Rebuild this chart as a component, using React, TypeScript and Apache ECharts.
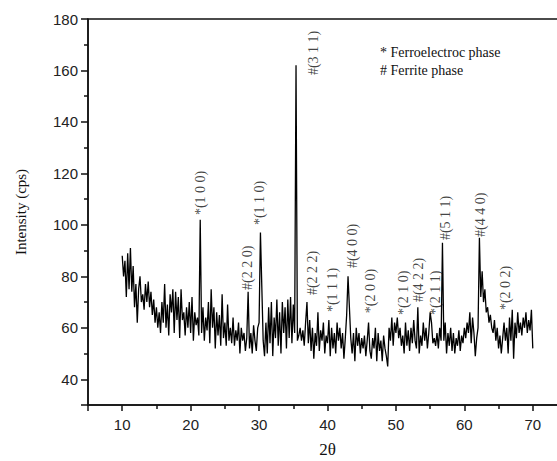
import React, { useEffect, useRef } from "react";
import * as echarts from "echarts";

// Sampling grid of the scan (2θ, degrees)
const START_2THETA = 10;
const STEP_2THETA = 0.2;

// Intensity (cps), one value per 0.2° from 10.0° to 70.0°
const intensity: number[] = [
  88, 80, 86, 72, 89, 75, 91, 74, 84, 68, 77,
  62, 75, 80, 70, 73, 67, 77, 70, 78, 68,
  74, 65, 71, 62, 68, 60, 66, 58, 70, 62,
  77, 60, 69, 57, 73, 66, 75, 58, 74, 63,
  72, 56, 75, 63, 66, 57, 68, 60, 70, 58,
  72, 55, 66, 61, 64, 57, 102, 58, 68, 55,
  64, 59, 70, 54, 75, 60, 68, 52, 66, 57,
  65, 53, 73, 56, 62, 53, 69, 55, 60, 54,
  64, 53, 59, 55, 62, 50, 60, 55, 58, 51,
  56, 74, 52, 58, 50, 61, 55, 51, 60, 62,
  97, 76, 55, 49, 62, 50, 68, 54, 70, 49,
  64, 56, 71, 53, 66, 50, 70, 58, 68, 52,
  71, 56, 72, 54, 69, 58, 162, 55, 57, 60,
  55, 59, 53, 62, 70, 54, 63, 51, 60, 48,
  58, 53, 66, 51, 59, 55, 62, 50, 57, 54,
  63, 49, 60, 52, 58, 50, 62, 55, 60, 52,
  58, 48, 56, 65, 80, 68, 56, 50, 58, 47,
  60, 53, 58, 50, 56, 52, 57, 49, 55, 62,
  51, 48, 56, 52, 60, 47, 58, 51, 55, 47,
  57, 52, 49, 45, 60, 55, 64, 53, 62, 58,
  64, 56, 60, 53, 57, 50, 62, 53, 59, 51,
  60, 54, 63, 55, 52, 68, 50, 57, 53, 62,
  55, 60, 52, 58, 66, 62, 54, 56, 53, 58,
  52, 60, 55, 93, 55, 62, 50, 58, 53, 60,
  51, 58, 50, 56, 53, 59, 51, 57, 54, 60,
  56, 62, 58, 66, 54, 64, 58, 49, 56, 60,
  95, 72, 82, 70, 75, 66, 68, 62, 65, 60,
  58, 63, 55, 60, 52, 57, 50, 56, 62, 55,
  60, 50, 64, 55, 67, 48, 62, 56, 66, 58,
  62, 57, 64, 60, 66, 58, 63, 59, 67, 52,
];

// Peak annotations: text, and where each label starts (2θ, intensity)
const peakLabels: string[] = [
  "*(1 0 0)", "*(1 1 0)", "#(3 1 1)", "#(2 2 0)", "#(2 2 2)", "*(1 1 1)", "#(4 0 0)",
  "*(2 0 0)", "*(2 1 0)", "#(4 2 2)", "*(2 1 1)", "#(5 1 1)", "#(4 4 0)", "*(2 0 2)",
];
const peakLabel2Theta: number[] = [
  21.4, 30.05, 37.95, 28.3, 37.8, 40.7, 43.65, 46.3, 51.1, 53.3, 55.8, 57.25, 62.35, 66.0,
];
const peakLabelIntensity: number[] = [
  103.8, 99.9, 158.2, 74.7, 72.7, 66.1, 83.2, 65.7, 65.0, 70.0, 65.0, 94.1, 95.3, 66.9,
];

const legendLines: string[] = ["* Ferroelectroc phase", "# Ferrite phase"];

const X_MIN = 5;
const X_MAX = 75;
const Y_MIN = 30;
const Y_MAX = 180;

const SERIF = "'Liberation Serif', 'Times New Roman', serif";
const SANS = "'Liberation Sans', Arial, sans-serif";

export default function App() {
  const ref = useRef<HTMLDivElement>(null);

  useEffect(() => {
    if (!ref.current) return;
    const chart = echarts.init(ref.current, undefined, { renderer: "svg" });

    const lineData = intensity.map((v, i) => [
      +(START_2THETA + i * STEP_2THETA).toFixed(2),
      v,
    ]);
    const labelData = peakLabels.map((t, i) => ({
      value: [peakLabel2Theta[i], peakLabelIntensity[i]],
      name: t,
    }));

    chart.setOption({
      animation: false,
      backgroundColor: "#ffffff",
      grid: {
        left: 88,
        width: 479,
        top: 19,
        height: 386,
        outerBoundsMode: "none",
        containLabel: false,
        show: true,
        borderColor: "#111",
        borderWidth: 1.5,
      },
      xAxis: {
        type: "value",
        min: X_MIN,
        max: X_MAX,
        splitNumber: 7,
        name: "2θ",
        nameLocation: "middle",
        nameGap: 36,
        nameTextStyle: { fontFamily: SERIF, fontSize: 17, color: "#111" },
        axisLine: { show: true, onZero: false, lineStyle: { color: "#111", width: 1.5 } },
        axisTick: { show: true, inside: false, length: 6, lineStyle: { color: "#111", width: 1.5 } },
        minorTick: { show: true, splitNumber: 2, length: 4, lineStyle: { color: "#111", width: 1.5 } },
        axisLabel: {
          margin: 12,
          fontFamily: SANS,
          fontSize: 15,
          color: "#222",
          showMinLabel: false,
          showMaxLabel: false,
        },
        splitLine: { show: false },
      },
      yAxis: {
        type: "value",
        min: Y_MIN,
        max: Y_MAX,
        splitNumber: 7,
        name: "Intensity (cps)",
        nameLocation: "middle",
        nameGap: 60,
        nameTextStyle: { fontFamily: SERIF, fontSize: 15, color: "#111" },
        axisLine: { show: true, onZero: false, lineStyle: { color: "#111", width: 1.5 } },
        axisTick: { show: true, inside: false, length: 7, lineStyle: { color: "#111", width: 1.5 } },
        minorTick: { show: true, splitNumber: 2, length: 4, lineStyle: { color: "#111", width: 1.5 } },
        axisLabel: {
          margin: 10,
          fontFamily: SANS,
          fontSize: 15,
          color: "#222",
          showMinLabel: false,
        },
        splitLine: { show: false },
      },
      series: [
        {
          type: "line",
          data: lineData,
          symbol: "none",
          lineStyle: { color: "#000", width: 1.3 },
          silent: true,
        },
        {
          type: "scatter",
          data: labelData,
          symbolSize: 0,
          silent: true,
          label: {
            show: true,
            position: "top",
            distance: 0,
            rotate: 90,
            align: "left",
            verticalAlign: "middle",
            formatter: (p: any) => p.name,
            fontFamily: SERIF,
            fontSize: 14,
            color: "#111",
          },
        },
      ],
      graphic: legendLines.map((t, i) => ({
        type: "text",
        left: 380,
        top: 45 + i * 18,
        style: { text: t, fontFamily: SERIF, fontSize: 14, fill: "#111" },
        silent: true,
      })),
    });

    return () => chart.dispose();
  }, []);

  return (
    <div
      ref={ref}
      style={{ position: "fixed", left: 0, top: 0, width: 557, height: 461, background: "#fff" }}
    />
  );
}
